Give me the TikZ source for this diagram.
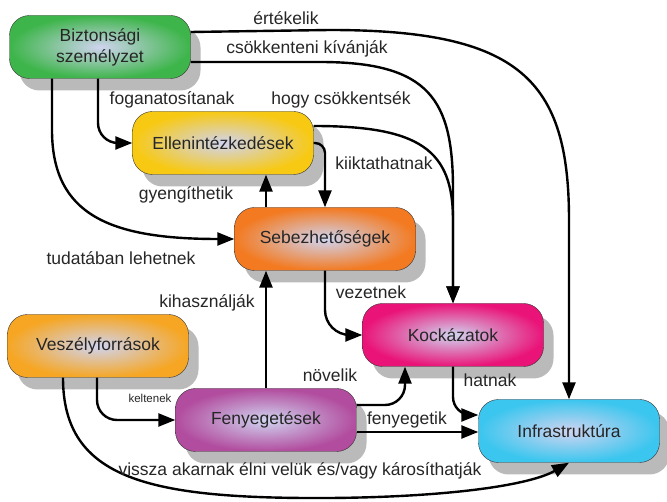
\documentclass[tikz,border=0pt]{standalone}
\usepackage{fontspec}
\setmainfont{Liberation Sans}
\usetikzlibrary{arrows.meta, shadows, positioning}

\definecolor{bizgreen}{RGB}{61,181,74}
\definecolor{ellgold}{RGB}{248,201,18}
\definecolor{seborange}{RGB}{243,122,33}
\definecolor{kockpink}{RGB}{234,20,120}
\definecolor{veszorange}{RGB}{246,166,35}
\definecolor{fenypurple}{RGB}{178,76,158}
\definecolor{infracyan}{RGB}{58,198,239}
\definecolor{innerblue}{RGB}{208,212,240}

\tikzset
{
    box/.style={rectangle, rounded corners=20pt, draw=black!80, thin,
        minimum width=181pt, minimum height=63pt, align=center, text=black!85,
        inner color=innerblue, outer color=#1,
        drop shadow={shadow xshift=10pt, shadow yshift=-12pt, fill=black!27, opacity=1},
        font=\fontsize{17.5}{21}\selectfont},
    lbl/.style={text=black!85, inner sep=0pt, font=\fontsize{17.5}{21}\selectfont},
    link/.style={->, line width=2.4pt},
}

\begin{document}
\begin{tikzpicture}[x=1pt, y=-1pt, >={Triangle[length=17pt,width=13pt]}]
    \useasboundingbox (0,0) rectangle (667,502);

    % boxes
    \node[box=bizgreen] (bizt) at (100,47) {Biztonsági\\személyzet};
    \node[box=ellgold] (ellen) at (223,143) {Ellenintézkedések};
    \node[box=seborange] (sebez) at (325,239) {Sebezhetőségek};
    \node[box=kockpink] (kock) at (453,335) {Kockázatok};
    \node[box=veszorange] (vesz) at (98,346) {Veszélyforrások};
    \node[box=fenypurple] (feny) at (266,420) {Fenyegetések};
    \node[box=infracyan] (infra) at (569,431) {Infrastruktúra};

    % from the staff
    \draw[link] ([yshift=15pt]bizt.east) -- (330,30) .. controls (520,30) and (569,80) .. (569,220) -- (infra.north)
        node[lbl] (l-ert) at (286,18) {értékelik};
    \draw[link] ([yshift=-15pt]bizt.east) -- (320,62) .. controls (430,62) and (453,100) .. (453,190) -- (kock.north)
        node[lbl] (l-csokk) at (307,49) {csökkenteni kívánják};
    \draw[link, rounded corners=20pt] ([xshift=-2pt]bizt.south) |- (ellen.west)
        node[lbl] (l-fog) at (172,100) {foganatosítanak};
    \draw[link] ([xshift=-48pt]bizt.south) -- (52,130) .. controls (52,215) and (110,239) .. (sebez.west)
        node[lbl] (l-tud) at (121,258) {tudatában lehetnek};

    % countermeasures and vulnerabilities
    \draw[link] ([yshift=17pt]ellen.east) .. controls (420,126) and (453,150) .. (453,220) -- (kock.north)
        node[lbl] (l-hogy) at (341,100) {hogy csökkentsék};
    \draw[link, rounded corners=10pt] (ellen.east) -| (sebez.north)
        node[lbl] (l-kiik) at (384,163) {kiiktathatnak};
    \draw[link] (feny.north |- sebez.north) -- (feny.north |- ellen.south)
        node[lbl] (l-gyen) at (186,195) {gyengíthetik};
    \draw[link, rounded corners=25pt] (sebez.south) |- (kock.west)
        node[lbl] (l-vez) at (371,292) {vezetnek};

    % threats
    \draw[link] (feny.north) -- (feny.north |- sebez.south)
        node[lbl] (l-kih) at (207,303) {kihasználják};
    \draw[link, rounded corners=20pt] ([yshift=15pt]feny.east) -| ([xshift=-48pt]kock.south)
        node[lbl] (l-nov) at (330,375) {növelik};
    \draw[link] ([yshift=-12pt]feny.east) -- ([yshift=-12pt]feny.east -| infra.west)
        node[lbl] (l-feny) at (407,420) {fenyegetik};
    \draw[link, rounded corners=18pt] (kock.south) |- ([yshift=16pt]infra.west)
        node[lbl] (l-hat) at (490,380) {hatnak};
    \draw[link, rounded corners=20pt] ([xshift=-1pt]vesz.south) |- (feny.west)
        node[lbl, font=\fontsize{11.5}{14}\selectfont] (l-kelt) at (150,398) {keltenek};
    \draw[link] ([xshift=-35pt]vesz.south) .. controls (63,480) and (150,499) .. (330,498)
        .. controls (450,497) and (530,485) .. (infra.south)
        node[lbl] (l-vissza) at (300,471) {vissza akarnak élni velük és/vagy károsíthatják};
\end{tikzpicture}
\end{document}
